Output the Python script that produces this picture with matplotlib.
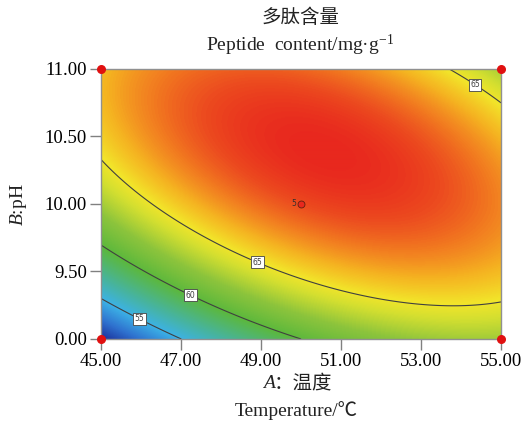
import numpy as np
import matplotlib
matplotlib.use("Agg")
import matplotlib.pyplot as plt
from matplotlib.colors import LinearSegmentedColormap

# Quadratic response-surface model (coded factors a=(A-50)/5, b=(B-10)/1)
b0, b1, b2, b12, b11, b22 = 68.66, 2.32, 4.06, -3.95, -3.48, -4.60
temp_ticks = [45, 47, 49, 51, 53, 55]
ph_ticks = [9.0, 9.5, 10.0, 10.5, 11.0]
ph_labels = ["0.00", "9.50", "10.00", "10.50", "11.00"]
contour_levels = [55, 60, 65]
label_pos = [(46.03, 9.19), (47.28, 9.35), (48.93, 9.585), (54.43, 10.92)]
design_pts_A = [45, 55, 45, 55]
design_pts_B = [9.0, 9.0, 11.0, 11.0]
center_A, center_B, center_n = 50.0, 10.0, "5"

plt.rcParams['mathtext.fontset'] = 'custom'
plt.rcParams['mathtext.rm'] = 'Liberation Serif'
plt.rcParams['mathtext.it'] = 'Liberation Serif:italic'
serif = ['Liberation Serif', 'Noto Sans CJK SC', 'DejaVu Sans']

A = np.linspace(45, 55, 400)
B = np.linspace(9, 11, 300)
AA, BB = np.meshgrid(A, B)
a = (AA - 50) / 5
b = (BB - 10) / 1
Z = b0 + b1*a + b2*b + b12*a*b + b11*a**2 + b22*b**2

cmap = LinearSegmentedColormap.from_list("de", [
    (0.0, "#1c2f9a"), (0.12, "#2f72cf"), (0.24, "#3cb2e6"),
    (0.36, "#48b49a"), (0.50, "#5cb83c"), (0.62, "#8cc43c"),
    (0.72, "#d4df30"), (0.77, "#f2e52a"), (0.84, "#f5b421"),
    (0.90, "#f27e20"), (0.955, "#ec4a1f"), (1.0, "#e8281e")])

fig = plt.figure(figsize=(5.27, 4.22), dpi=100)
fig.patch.set_facecolor("white")
ax = fig.add_axes([0.1917, 0.1967, 0.759, 0.6398])
ax.imshow(Z, extent=[45, 55, 9, 11], origin="lower", aspect="auto",
          cmap=cmap, interpolation="bilinear", vmin=Z.min(), vmax=Z.max())
cs = ax.contour(AA, BB, Z, levels=contour_levels, colors="#404040", linewidths=0.8)
labels = ax.clabel(cs, fmt="%d", fontsize=5.5, manual=label_pos, inline=True, inline_spacing=2)
for t in labels:
    t.set_rotation(0)
    t.set_bbox(dict(boxstyle="square,pad=0.2", fc="white", ec="#444444", lw=0.6))

ax.plot([center_A], [center_B], marker="o", ms=5, mfc="#e8281e", mec="#602010", mew=0.6)
ax.text(center_A - 0.12, center_B, center_n, fontsize=5.5, ha="right", va="center", color="#303030")
ax.scatter(design_pts_A, design_pts_B, s=30, c="#e01010", zorder=5, clip_on=False)

ax.set_xlim(45, 55)
ax.set_ylim(9, 11)
ax.set_xticks(temp_ticks)
ax.set_xticklabels([f"{v:.2f}" for v in temp_ticks])
ax.set_yticks(ph_ticks)
ax.set_yticklabels(ph_labels)
for s in ax.spines.values():
    s.set_color("#909090")
    s.set_linewidth(1.0)
ax.tick_params(direction="out", length=8, width=1, color="#808080", labelsize=13.5, pad=2)
for t in ax.get_xticklabels() + ax.get_yticklabels():
    t.set_family(serif)

fs = 14
fig.text(0.570, 0.958, "多肽含量", ha="center", va="center", fontsize=fs, family=serif, color="#222222")
fig.text(0.570, 0.893, "Peptide  content/mg·g$^{-1}$", ha="center", va="center", fontsize=fs, family=serif, color="#222222")
fig.text(0.522, 0.092, "A", ha="right", va="center", fontsize=fs, style="italic", family=serif, color="#222222")
fig.text(0.520, 0.092, "：温度", ha="left", va="center", fontsize=fs, family=serif, color="#222222")
fig.text(0.562, 0.028, "Temperature/℃", ha="center", va="center", fontsize=fs, family=serif, color="#222222")
fig.text(0.036, 0.515, "$\\mathit{B}$:pH", ha="center", va="center", rotation=90, fontsize=fs, family=serif, color="#222222")

fig.savefig("out.png", dpi=100)
